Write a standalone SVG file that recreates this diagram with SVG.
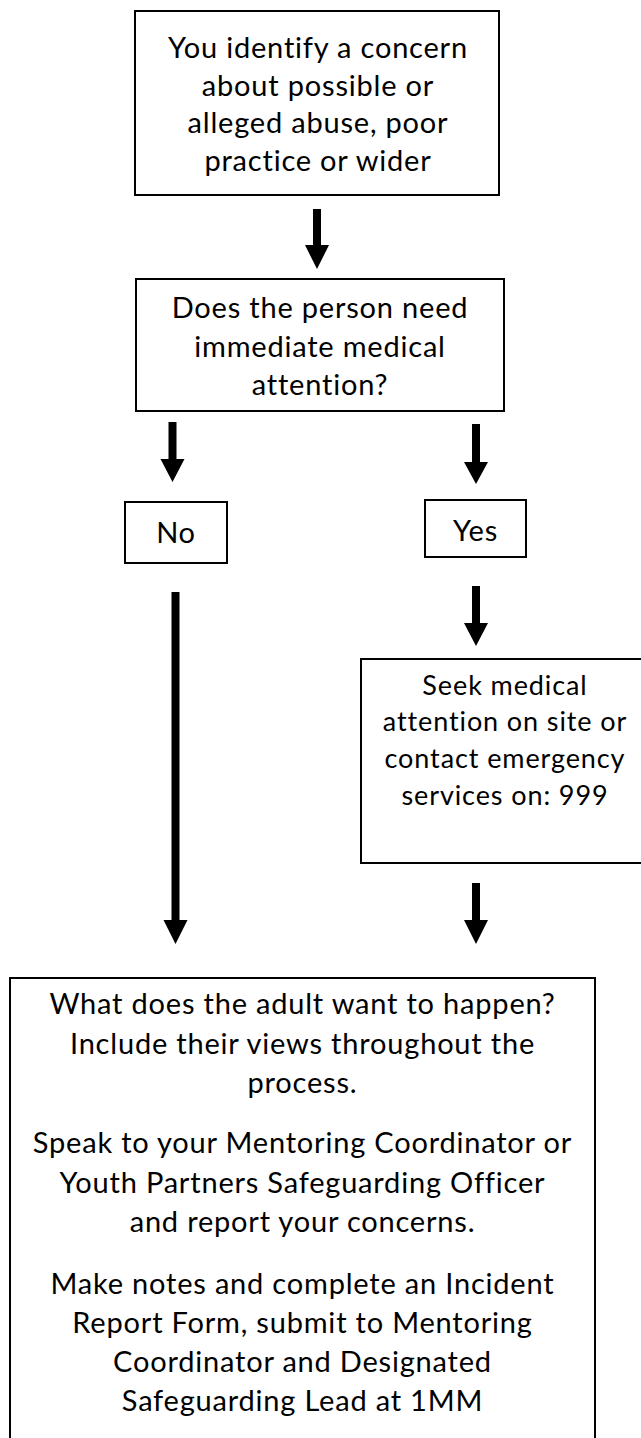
<svg xmlns="http://www.w3.org/2000/svg" width="641" height="1438" viewBox="0 0 641 1438">
<style>
.box{fill:#fff;stroke:#000;stroke-width:2}
.t{font-family:Lato,"Open Sans","Liberation Sans",sans-serif;font-size:29px;font-weight:400;letter-spacing:0.8px;fill:#000;text-anchor:middle}
.s{font-size:27px;letter-spacing:0.9px}
.arr{fill:#000;stroke:none}
</style>
<rect width="641" height="1438" fill="#fff"/>
<g id="connectors">
<path class="arr" d="M313 209 H321 V245 H329 L317 269 L305 245 H313 Z"/>
<path class="arr" d="M168.5 422 H176.5 V459 H184.5 L172.5 482 L160.5 459 H168.5 Z"/>
<path class="arr" d="M472 424 H480 V462 H488 L476 484 L464 462 H472 Z"/>
<path class="arr" d="M171.5 592 H179.5 V920 H187.5 L175.5 944 L163.5 920 H171.5 Z"/>
<path class="arr" d="M472 586 H480 V623 H488 L476 646 L464 623 H472 Z"/>
<path class="arr" d="M472 883 H480 V920 H488 L476 944 L464 920 H472 Z"/>
</g>
<g id="node-concern">
<rect class="box" x="135" y="11" width="364" height="184"/>
<text class="t" x="318" y="58">You identify a concern</text>
<text class="t" x="318" y="95.5">about possible or</text>
<text class="t" x="318" y="133">alleged abuse, poor</text>
<text class="t" x="318" y="170.5">practice or wider</text>
</g>
<g id="node-question">
<rect class="box" x="136" y="279" width="368" height="132"/>
<text class="t" x="320" y="318">Does the person need</text>
<text class="t" x="320" y="357">immediate medical</text>
<text class="t" x="320" y="395">attention?</text>
</g>
<g id="node-no">
<rect class="box" x="125" y="502" width="102" height="61"/>
<text class="t" x="176" y="543">No</text>
</g>
<g id="node-yes">
<rect class="box" x="425" y="500" width="101" height="57"/>
<text class="t" x="475.5" y="541">Yes</text>
</g>
<g id="node-medical">
<rect class="box" x="361" y="659" width="290" height="204"/>
<text class="t s" x="505" y="695">Seek medical</text>
<text class="t s" x="505" y="731">attention on site or</text>
<text class="t s" x="505" y="767.5">contact emergency</text>
<text class="t s" x="505" y="805">services on: 999</text>
</g>
<g id="node-report">
<rect class="box" x="10" y="978" width="585" height="470"/>
<text class="t" x="302.5" y="1014">What does the adult want to happen?</text>
<text class="t" x="302.5" y="1054">Include their views throughout the</text>
<text class="t" x="302.5" y="1093">process.</text>
<text class="t" x="302.5" y="1153">Speak to your Mentoring Coordinator or</text>
<text class="t" x="302.5" y="1193">Youth Partners Safeguarding Officer</text>
<text class="t" x="302.5" y="1232">and report your concerns.</text>
<text class="t" x="302.5" y="1294">Make notes and complete an Incident</text>
<text class="t" x="302.5" y="1333">Report Form, submit to Mentoring</text>
<text class="t" x="302.5" y="1372">Coordinator and Designated</text>
<text class="t" x="302.5" y="1411">Safeguarding Lead at 1MM</text>
</g>
</svg>
